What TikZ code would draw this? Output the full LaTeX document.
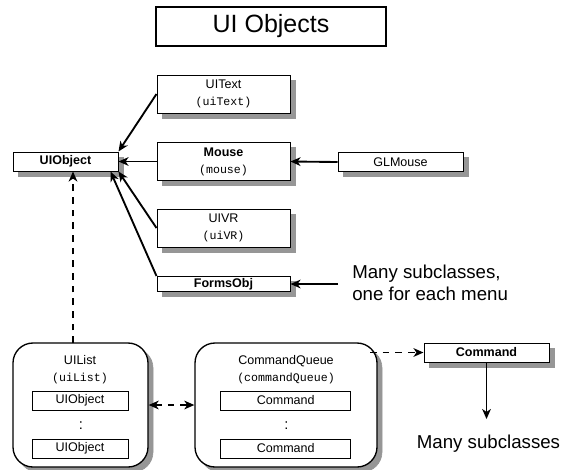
\documentclass[tikz,border=0pt]{standalone}
\usepackage{fontspec}
\setmainfont{Liberation Sans}
\setmonofont{Liberation Mono}
\usetikzlibrary{arrows.meta,calc}
\newcommand\codetxt[1]{{\fontsize{8.7pt}{12.75pt}\selectfont\ttfamily #1}}
\definecolor{shadowgray}{RGB}{150,150,150}
\begin{document}
\begin{tikzpicture}[x=0.75pt,y=-0.75pt,
  lbl/.style={font=\fontsize{9.4pt}{12.75pt}\selectfont, align=center, inner sep=0pt},
  sz/.style 2 args={minimum width=#1*0.75pt, minimum height=#2*0.75pt},
  plainbox/.style={draw, line width=0.75pt, fill=white, lbl},
  shadowfill/.style={fill=shadowgray, draw=shadowgray, line width=0.5pt},
  big/.style={font=\fontsize{14pt}{16.5pt}\selectfont, align=left, inner sep=0pt},
  arr/.style={-{Stealth[length=7.5pt,width=6.5pt,inset=2.2pt]}, line width=1.4pt},
  darr/.style={arr, dash pattern=on 5pt off 4.5pt},
]
\useasboundingbox (0,0) rectangle (566,469);

% shadows drawn first (below the boxes)
\path[shadowfill] (18,157) rectangle (123,176);   % UIObject
\path[shadowfill] (162,80) rectangle (295,118);  % UIText
\path[shadowfill] (162,147.5) rectangle (295,185.5);     % Mouse
\path[shadowfill] (162,214) rectangle (295,252); % UIVR
\path[shadowfill] (162,281.5) rectangle (295,296.5);     % FormsObj
\path[shadowfill] (343,157.5) rectangle (468,176.5);     % GLMouse
\path[shadowfill] (429,348) rectangle (554,367); % Command
\path[shadowfill, rounded corners=15pt] (18,348) rectangle (153,472); % UIList
\path[shadowfill, rounded corners=15pt] (200,348) rectangle (382,472); % CommandQueue

% title
\node[draw, line width=1pt, sz={230}{39}, font=\fontsize{18.75pt}{22pt}\selectfont] (title) at (271,26.5) {UI Objects};

% classes
\node[plainbox, sz={105}{19}] (uiobject) at (65.5,161.5) {\bfseries UIObject};
\node[plainbox, sz={133}{38}] (uitext) at (223.5,94) {UIText\\\codetxt{(uiText)}};
\node[plainbox, sz={133}{38}] (mouse) at (223.5,161.5) {\bfseries Mouse\\\codetxt{(mouse)}};
\node[plainbox, sz={133}{38}] (uivr) at (223.5,228) {UIVR\\\codetxt{(uiVR)}};
\node[plainbox, sz={133}{15}] (formsobj) at (223.5,284) {\bfseries FormsObj};
\node[plainbox, sz={125}{19}] (glmouse) at (400.5,162) {GLMouse};
\node[big, anchor=west] (menutext) at (352,283) {Many subclasses,\\one for each menu};

% containers
\node[draw, line width=1pt, fill=white, rounded corners=15pt, sz={135}{124}] (uilist) at (80.5,405) {};
\node[lbl] (uilisttitle) at (80,370) {UIList\\\codetxt{(uiList)}};
\node[plainbox, sz={96}{19}] (ul1) at (80,400.5) {UIObject};
\node[lbl, font=\fontsize{11pt}{12pt}\selectfont] (uldots) at (81,426) {:};
\node[plainbox, sz={96}{19}] (ul2) at (80,448.5) {UIObject};

\node[draw, line width=1pt, fill=white, rounded corners=15pt, sz={182}{124}] (cq) at (286,405) {};
\node[lbl] (cqtitle) at (286,370) {CommandQueue\\\codetxt{(commandQueue)}};
\node[plainbox, sz={130}{19}] (cq1) at (285.7,400.5) {Command};
\node[lbl, font=\fontsize{11pt}{12pt}\selectfont] (cqdots) at (286.5,426) {:};
\node[plainbox, sz={130}{19}] (cq2) at (285.7,448.5) {Command};

\node[plainbox, sz={125}{19}] (command) at (486.5,352.5) {\bfseries Command};
\node[big] (manysub) at (488.5,444) {Many subclasses};

% connectors
\draw[arr] (uitext.west) -- (uiobject.north east);
\draw[arr] (mouse.west) -- (uiobject.east);
\draw[arr] (uivr.west) -- (uiobject.south east);
\draw[arr] (formsobj.north west) -- ($(uiobject.south east)+(-8,0)$);
\draw[arr] (glmouse.west) -- (mouse.east);
\draw[arr, shorten <=10.5pt] (menutext.west |- formsobj.east) -- (formsobj.east);

\coordinate (dtop) at (73,343);
\draw[darr] (dtop) -- (dtop |- uiobject.south);
\draw[darr, {Stealth[length=7.5pt,width=6.5pt,inset=2.2pt]}-{Stealth[length=7.5pt,width=6.5pt,inset=2.2pt]}] (uilist.east) -- (cq.west);
\coordinate (cqs) at (370,352.5);
\draw[darr] (cqs) -- (command.west);
\draw[arr, shorten >=12pt] (command.south) -- (command.south |- manysub.north);
\end{tikzpicture}
\end{document}
